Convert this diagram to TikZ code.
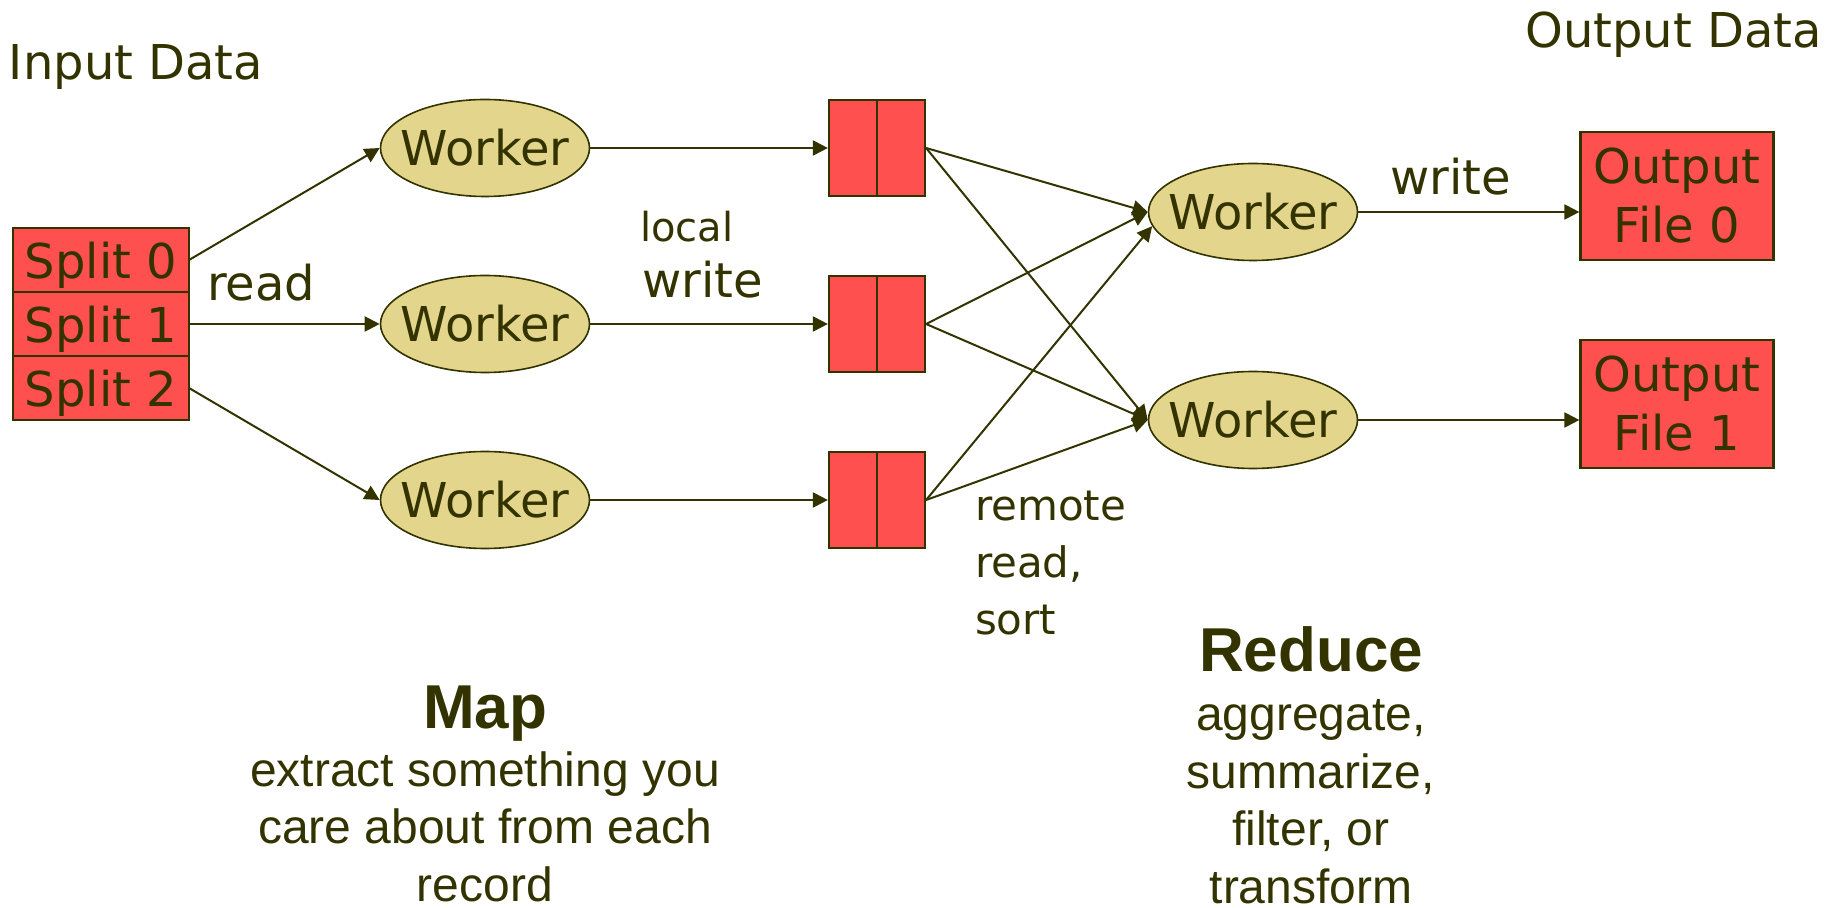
\documentclass[tikz,border=0pt]{standalone}
\usepackage{fontspec}
\setmainfont{DejaVu Sans}
\newfontfamily\captionfont{Liberation Sans}
\usetikzlibrary{%
  arrows.meta,%
  positioning,%
  shapes.geometric% ellipse
}
\definecolor{ink}{HTML}{333300}
\definecolor{splitred}{HTML}{FF5050}
\definecolor{workerfill}{HTML}{E3D58C}

\begin{document}
\begin{tikzpicture}
[x=0.5pt, y=-0.5pt, color=ink, line width=1pt, >={Triangle[length=7.5pt,width=7.5pt]},
lbl/.style={inner sep=0pt, font=\fontsize{24}{29}\selectfont},
smalllbl/.style={inner sep=0pt, align=left, font=\fontsize{21}{28.5}\selectfont},
split/.style={rectangle, draw=ink, fill=splitred, line width=1.1pt, inner sep=0pt, outer sep=0pt,
  minimum width=88pt, minimum height=32pt, text depth=0pt, font=\fontsize{24}{29}\selectfont},
buffer/.style={rectangle, draw=ink, fill=splitred, line width=1.1pt, inner sep=0pt,
  minimum width=48pt, minimum height=48pt},
worker/.style={ellipse, draw=ink, fill=workerfill, line width=0.8pt, inner xsep=-6.6pt, inner ysep=0pt,
  minimum width=104.5pt, minimum height=48.5pt, font=\fontsize{24}{29}\selectfont},
outfile/.style={rectangle, draw=ink, fill=splitred, line width=1.1pt, inner sep=0pt, align=center,
  minimum width=96.5pt, minimum height=64pt, font=\fontsize{24}{29.5}\selectfont},
heading/.style={inner sep=0pt, font=\captionfont\bfseries\fontsize{31}{36}\selectfont},
caption/.style={inner sep=0pt, align=center, font=\captionfont\fontsize{24}{28.75}\selectfont}]

\useasboundingbox (0,0) rectangle (1841,908);

% input splits
\node[split] (split0) at (101,260) {Split 0};
\node[split, below=0pt of split0] (split1) {Split 1};
\node[split, below=0pt of split1] (split2) {Split 2};
\node[lbl, anchor=base west] (indata) at (8,80) {Input Data};

% map workers and local buffers
\foreach \i/\y in {0/148,1/324,2/500} {
  \node[worker] (map\i) at (485,\y) {Worker};
  \node[buffer] (buf\i) at (877,\y) {};
  \draw (buf\i.north) -- (buf\i.south);
  \draw[->] (map\i) -- (buf\i);
  \draw[->] (split\i.east) -- (map\i.west);
}
\node[lbl, anchor=base west] (readlbl) at (206,301) {read};
\node[smalllbl, font=\fontsize{20}{24}\selectfont, anchor=base west] (locallbl) at (639,242) {local};
\node[lbl, anchor=base west] (lwritelbl) at (641,298) {write};

% reduce workers
\node[worker] (red0) at (1253,212) {Worker};
\node[worker] (red1) at (1253,420) {Worker};
\draw[->] (buf0.east) -- (red0.west);
\draw[->] (buf0.east) -- (red1.west);
\draw[->] (buf1.east) -- (red0.west);
\draw[->] (buf1.east) -- (red1.west);
\draw[->] (buf2.east) -- (red0.188);
\draw[->] (buf2.east) -- (red1.west);
% base of a multi-line node = its last line
\node[smalllbl, anchor=base west] (remotelbl) at (974,634) {remote\\read,\\sort};

% output files
\node[outfile] (out0) at (1677,196) {Output\\File 0};
\node[outfile] (out1) at (1677,404) {Output\\File 1};
\draw[->] (red0.east) -- (red0.east -| out0.west);
\draw[->] (red1.east) -- (red1.east -| out1.west);
\node[lbl, anchor=base west] (writelbl) at (1389,195) {write};
\node[lbl, anchor=base east] (outdata) at (1823,48) {Output Data};

% captions
\node[heading, anchor=base] (maphead) at (485,728) {Map};
\node[caption, anchor=base] (mapcap) at (485,901) {extract something you\\care about from each\\record};
\node[heading, anchor=base] (redhead) at (1311,671) {Reduce};
\node[caption, anchor=base] (redcap) at (1311,903) {aggregate,\\summarize,\\filter, or\\transform};
\end{tikzpicture}
\end{document}
